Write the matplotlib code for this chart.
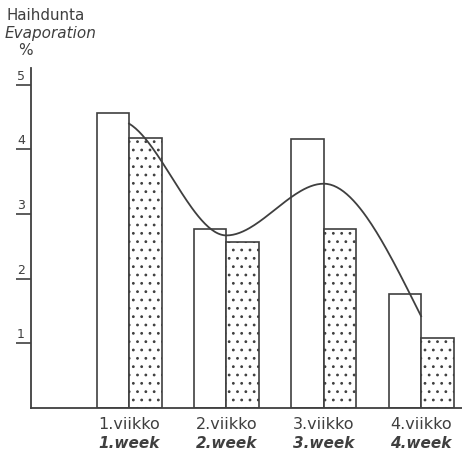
import numpy as np
import matplotlib
matplotlib.use("Agg")
import matplotlib.pyplot as plt
from matplotlib.transforms import offset_copy

# ---- data ----
weeks_fi = ["1.viikko", "2.viikko", "3.viikko", "4.viikko"]
weeks_en = ["1.week", "2.week", "3.week", "4.week"]
plain_values = [4.57, 2.77, 4.16, 1.76]     # white bars
dotted_values = [4.18, 2.57, 2.77, 1.08]    # dotted bars
curve_values = [4.40, 2.67, 3.47, 1.42]     # smooth curve through group centres
curve_slopes = [-0.9, 0.0, 0.0, -3.0]       # tangent of curve at each point
y_ticks = [1, 2, 3, 4, 5]

ink = "#3f3f3f"
plt.rcParams["hatch.color"] = "#9a9a9a"
plt.rcParams["hatch.linewidth"] = 0.8

W, H = 462, 453
fig = plt.figure(figsize=(W / 100, H / 100), dpi=100)
left_px, right_px, base_px, top_px = 31, 462, 408, 68
ax = fig.add_axes([left_px / W, (H - base_px) / H,
                   (right_px - left_px) / W, (base_px - top_px) / H])

x = np.arange(len(weeks_fi))
w = 0.334
ax.bar(x - w / 2, plain_values, width=w, color="white", edgecolor=ink,
       linewidth=1.2, zorder=2)
ax.bar(x + w / 2, dotted_values, width=w, color="white", edgecolor=ink,
       linewidth=1.2, hatch="..", zorder=2)

# smooth curve (cubic Hermite through the points)
xs, ys = [], []
for i in range(len(curve_values) - 1):
    t = np.linspace(0, 1, 60)
    h00 = 2 * t**3 - 3 * t**2 + 1
    h10 = t**3 - 2 * t**2 + t
    h01 = -2 * t**3 + 3 * t**2
    h11 = t**3 - t**2
    yy = (h00 * curve_values[i] + h10 * curve_slopes[i]
          + h01 * curve_values[i + 1] + h11 * curve_slopes[i + 1])
    xs.append(x[i] + t)
    ys.append(yy)
ax.plot(np.concatenate(xs), np.concatenate(ys), color=ink, linewidth=1.3,
        zorder=3)

ax.set_xlim(-1.007, 3.42)
ax.set_ylim(0, 5.26)
for s in ["top", "right"]:
    ax.spines[s].set_visible(False)
for s in ["left", "bottom"]:
    ax.spines[s].set_color(ink)
    ax.spines[s].set_linewidth(1.3)

ax.set_xticks([])
ax.set_yticks(y_ticks)
ax.set_yticklabels([])
ax.tick_params(axis="y", direction="out", length=11, width=1.2, color=ink)

lab_tr = offset_copy(ax.get_yaxis_transform(), fig=fig, x=-10, y=2, units="dots")
for v in y_ticks:
    ax.text(0, v, str(v), transform=lab_tr, ha="center", va="bottom",
            fontsize=9, color=ink)

name_tr1 = offset_copy(ax.get_xaxis_transform(), fig=fig, y=-9, units="dots")
name_tr2 = offset_copy(ax.get_xaxis_transform(), fig=fig, y=-28, units="dots")
for i in range(len(weeks_fi)):
    ax.text(x[i], 0, weeks_fi[i], transform=name_tr1, ha="center", va="top",
            fontsize=11.5, color=ink)
    ax.text(x[i], 0, weeks_en[i], transform=name_tr2, ha="center", va="top",
            fontsize=11, color=ink, style="italic", fontweight="bold")

fig.text(6 / W, 1 - 8 / H, "Haihdunta", ha="left", va="top", fontsize=10.8,
         color=ink)
fig.text(5 / W, 1 - 26 / H, "Evaporation", ha="left", va="top", fontsize=11,
         color=ink, style="italic")
fig.text(25 / W, 1 - 43 / H, "%", ha="center", va="top", fontsize=11,
         color=ink)

fig.savefig("out.png", dpi=100, facecolor="white")
